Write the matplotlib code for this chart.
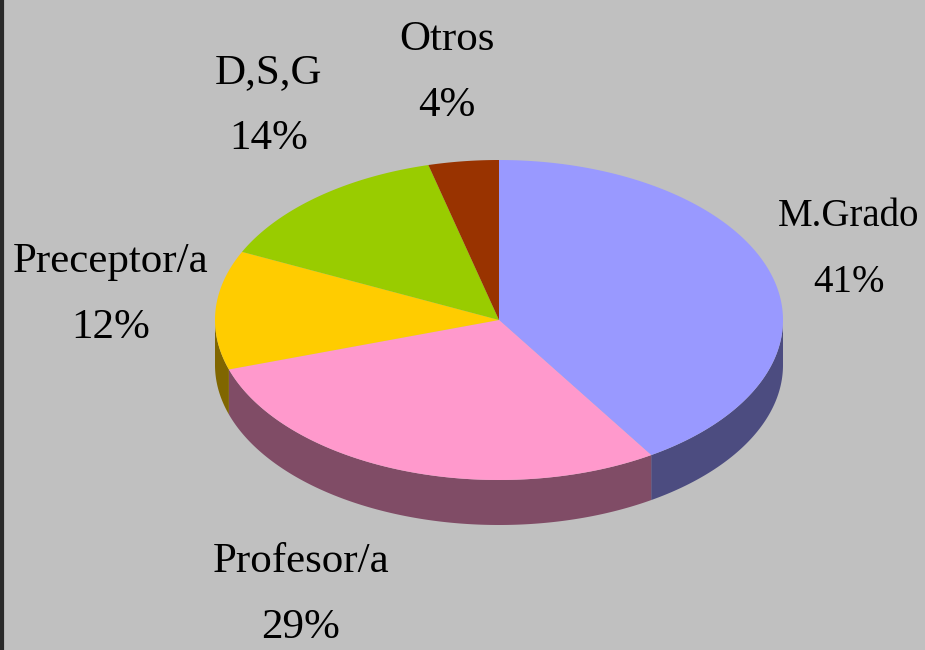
import numpy as np
import matplotlib.pyplot as plt
from matplotlib.patches import Polygon

labels = ['M.Grado', 'Profesor/a', 'Preceptor/a', 'D,S,G', 'Otros']
values = [41, 29, 12, 14, 4]
top_colors = ['#9999FF', '#FF99CC', '#FFCC00', '#99CC00', '#993300']
side_colors = ['#4C4C80', '#804C66', '#806600', '#4C6600', '#4C1A00']

# label anchor points in pixels (centre of the two-line text) and font sizes
label_pos = [(849, 249), (301, 595), (111, 295), (269, 106), (447, 73)]
label_size = [28, 31, 31, 31, 31]

cx, cy = 499, 320   # centre of the top face
rx, ry = 284, 160   # ellipse radii
depth = 45

W, H = 925, 650
fig = plt.figure(figsize=(W / 100, H / 100), dpi=100)
fig.patch.set_facecolor('#C0C0C0')
ax = fig.add_axes([0, 0, 1, 1])
ax.set_xlim(0, W)
ax.set_ylim(H, 0)
ax.axis('off')


def ellipse_pts(a0, a1, n=200):
    t = np.radians(np.linspace(a0, a1, n))
    return cx + rx * np.sin(t), cy - ry * np.cos(t)


fracs = np.array(values, dtype=float) / sum(values)
edges = np.concatenate([[0], np.cumsum(fracs)]) * 360

# side walls (front half only: 90..270 deg clockwise from top)
for i in range(len(values)):
    a0, a1 = max(edges[i], 90), min(edges[i + 1], 270)
    if a1 <= a0:
        continue
    x, y = ellipse_pts(a0, a1)
    xs = np.concatenate([x, x[::-1]])
    ys = np.concatenate([y, y[::-1] + depth])
    ax.add_patch(Polygon(np.column_stack([xs, ys]), closed=True,
                         facecolor=side_colors[i], edgecolor='none'))

# top faces
for i in range(len(values)):
    x, y = ellipse_pts(edges[i], edges[i + 1])
    xs = np.concatenate([[cx], x])
    ys = np.concatenate([[cy], y])
    ax.add_patch(Polygon(np.column_stack([xs, ys]), closed=True,
                         facecolor=top_colors[i], edgecolor='none'))

for lab, v, (lx, ly), fs in zip(labels, values, label_pos, label_size):
    ax.text(lx, ly - 33, lab, ha='center', va='center', fontsize=fs,
            family='Liberation Serif', color='black')
    ax.text(lx, ly + 33, f'{v}%', ha='center', va='center', fontsize=fs,
            family='Liberation Serif', color='black')

# left border
ax.plot([1.5, 1.5], [0, H], color='#2a2a2a', lw=3)

fig.savefig('out.png', dpi=100, facecolor=fig.get_facecolor())
